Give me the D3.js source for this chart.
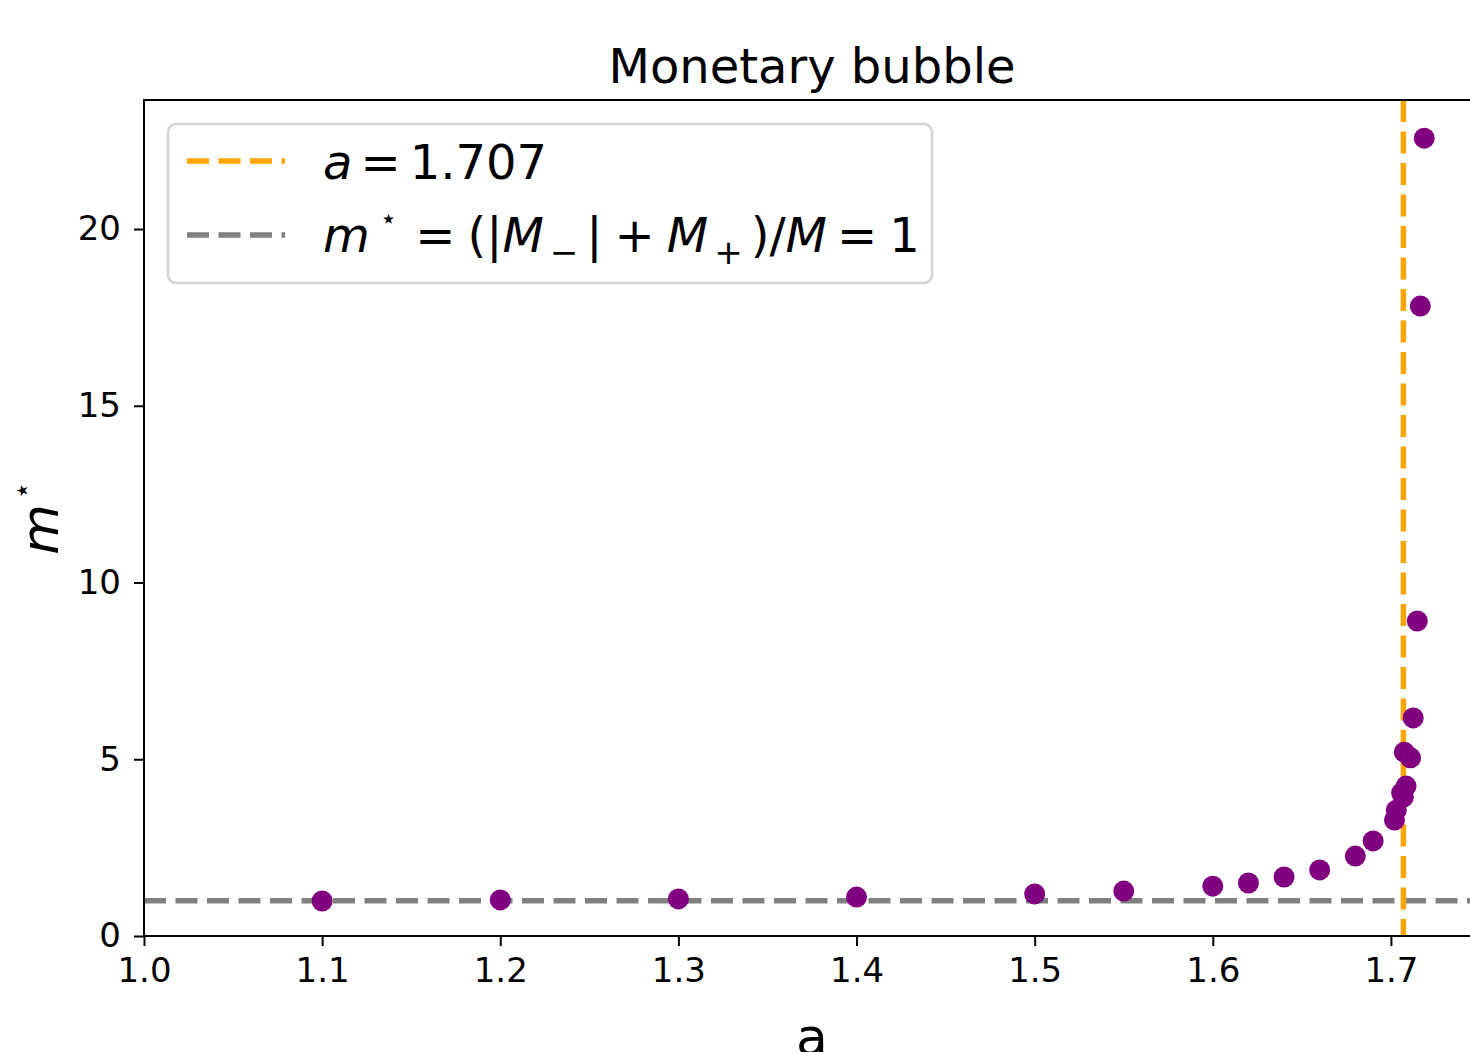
<!DOCTYPE html>
<html>
<head>
<meta charset="utf-8">
<script src="https://cdn.jsdelivr.net/npm/d3@7"></script>
<style>
  html, body { margin: 0; padding: 0; background: #fff; }
  svg { display: block; font-family: "DejaVu Sans", sans-serif; }
</style>
</head>
<body>
<svg id="chart" width="1470" height="1052"></svg>
<script>
// Critical parameter a and the resulting money ratio m*
const aValues = [1.1, 1.2, 1.3, 1.4, 1.5, 1.55, 1.6, 1.62, 1.64, 1.66, 1.68, 1.69,
                 1.702, 1.703, 1.706, 1.707, 1.7085, 1.7075, 1.711, 1.7125, 1.7148, 1.7165, 1.7187];
const mValues = [0.99, 1.02, 1.05, 1.10, 1.19, 1.27, 1.41, 1.50, 1.67, 1.87, 2.26, 2.69,
                 3.28, 3.56, 4.05, 3.93, 4.24, 5.20, 5.04, 6.17, 8.91, 17.82, 22.57];
const aCritical = 1.707;
const mBaseline = 1;
const xTicks = [1.0, 1.1, 1.2, 1.3, 1.4, 1.5, 1.6, 1.7];
const yTicks = [0, 5, 10, 15, 20];
const xDomain = [1.0, 1.75];
const yDomain = [0, 23.65];

const points = aValues.map((a, i) => ({ a, m: mValues[i] }));

const svg = d3.select("#chart");
const margin = { left: 144, top: 100, right: 1480, bottom: 936 };

const x = d3.scaleLinear().domain(xDomain).range([margin.left, margin.right]);
const y = d3.scaleLinear().domain(yDomain).range([margin.bottom, margin.top]);

svg.append("rect").attr("width", 1470).attr("height", 1052).attr("fill", "#fff");

// Title
svg.append("text")
  .attr("x", (margin.left + margin.right) / 2)
  .attr("y", 83)
  .attr("text-anchor", "middle")
  .attr("font-size", 48)
  .attr("fill", "#000")
  .text("Monetary bubble");

// Reference lines
svg.append("line")
  .attr("x1", x(xDomain[0])).attr("x2", x(xDomain[1]))
  .attr("y1", y(mBaseline)).attr("y2", y(mBaseline))
  .attr("stroke", "#808080").attr("stroke-width", 5.5)
  .attr("stroke-dasharray", "22,9.5");

svg.append("line")
  .attr("x1", x(aCritical)).attr("x2", x(aCritical))
  .attr("y1", y(yDomain[1])).attr("y2", y(yDomain[0]))
  .attr("stroke", "#FFA500").attr("stroke-width", 5.5)
  .attr("stroke-dasharray", "22,9.5");

// Scatter points
svg.append("g")
  .selectAll("circle")
  .data(points)
  .join("circle")
  .attr("cx", d => x(d.a))
  .attr("cy", d => y(d.m))
  .attr("r", 10.5)
  .attr("fill", "#800080");

// Axes
const xAxis = svg.append("g")
  .attr("transform", `translate(0,${margin.bottom})`)
  .call(d3.axisBottom(x).tickValues(xTicks).tickFormat(d3.format(".1f")).tickSize(10).tickPadding(12).tickSizeOuter(0));
const yAxis = svg.append("g")
  .attr("transform", `translate(${margin.left},0)`)
  .call(d3.axisLeft(y).tickValues(yTicks).tickFormat(d3.format("d")).tickSize(10).tickPadding(13).tickSizeOuter(0));

[xAxis, yAxis].forEach(g => {
  g.select(".domain").remove();
  g.selectAll(".tick line").attr("stroke", "#000").attr("stroke-width", 2);
  g.selectAll(".tick text").attr("font-size", 34).attr("fill", "#000")
    .attr("font-family", "DejaVu Sans, sans-serif");
});

// Frame
svg.append("rect")
  .attr("x", margin.left).attr("y", margin.top)
  .attr("width", margin.right - margin.left)
  .attr("height", margin.bottom - margin.top)
  .attr("fill", "none").attr("stroke", "#000").attr("stroke-width", 2);

// Axis labels
svg.append("text")
  .attr("x", (margin.left + margin.right) / 2)
  .attr("y", 1055)
  .attr("text-anchor", "middle")
  .attr("font-size", 52)
  .text("a");

const yl = svg.append("text")
  .attr("transform", `translate(58,${(margin.top + margin.bottom) / 2}) rotate(-90)`)
  .attr("text-anchor", "middle")
  .attr("font-size", 52);
yl.append("tspan").attr("font-style", "italic").text("m");
yl.append("tspan").attr("font-size", 30).attr("dy", -26).attr("dx", 4).text("⋆");

// Legend
const legend = svg.append("g");
legend.append("rect")
  .attr("x", 168).attr("y", 124).attr("width", 764).attr("height", 159)
  .attr("rx", 8)
  .attr("fill", "#fff").attr("fill-opacity", 0.8)
  .attr("stroke", "#d4d4d4").attr("stroke-width", 2.5);

legend.append("line")
  .attr("x1", 187).attr("x2", 285).attr("y1", 161).attr("y2", 161)
  .attr("stroke", "#FFA500").attr("stroke-width", 5.5).attr("stroke-dasharray", "22,9.5");
legend.append("line")
  .attr("x1", 187).attr("x2", 285).attr("y1", 235).attr("y2", 235)
  .attr("stroke", "#808080").attr("stroke-width", 5.5).attr("stroke-dasharray", "22,9.5");

const t1 = legend.append("text").attr("x", 323).attr("y", 179).attr("font-size", 48);
t1.append("tspan").attr("font-style", "italic").text("a");
t1.append("tspan").attr("dx", 8).text("=");
t1.append("tspan").attr("dx", 9).text("1.707");

const t2 = legend.append("text").attr("x", 323).attr("y", 252).attr("font-size", 48);
t2.append("tspan").attr("font-style", "italic").text("m");
t2.append("tspan").attr("font-size", 28).attr("dx", 10).attr("dy", -24).text("⋆");
t2.append("tspan").attr("dx", 18).attr("dy", 24).text("=");
t2.append("tspan").attr("dx", 12).text("(|");
t2.append("tspan").attr("font-style", "italic").text("M");
t2.append("tspan").attr("font-size", 34).attr("dx", 6).attr("dy", 12).text("−");
t2.append("tspan").attr("dx", 8).attr("dy", -12).text("|");
t2.append("tspan").attr("dx", 12).text("+");
t2.append("tspan").attr("dx", 12).attr("font-style", "italic").text("M");
t2.append("tspan").attr("font-size", 34).attr("dx", 6).attr("dy", 12).text("+");
t2.append("tspan").attr("dx", 8).attr("dy", -12).text(")/");
t2.append("tspan").attr("font-style", "italic").text("M");
t2.append("tspan").attr("dx", 10).text("=");
t2.append("tspan").attr("dx", 12).text("1");
</script>
</body>
</html>
